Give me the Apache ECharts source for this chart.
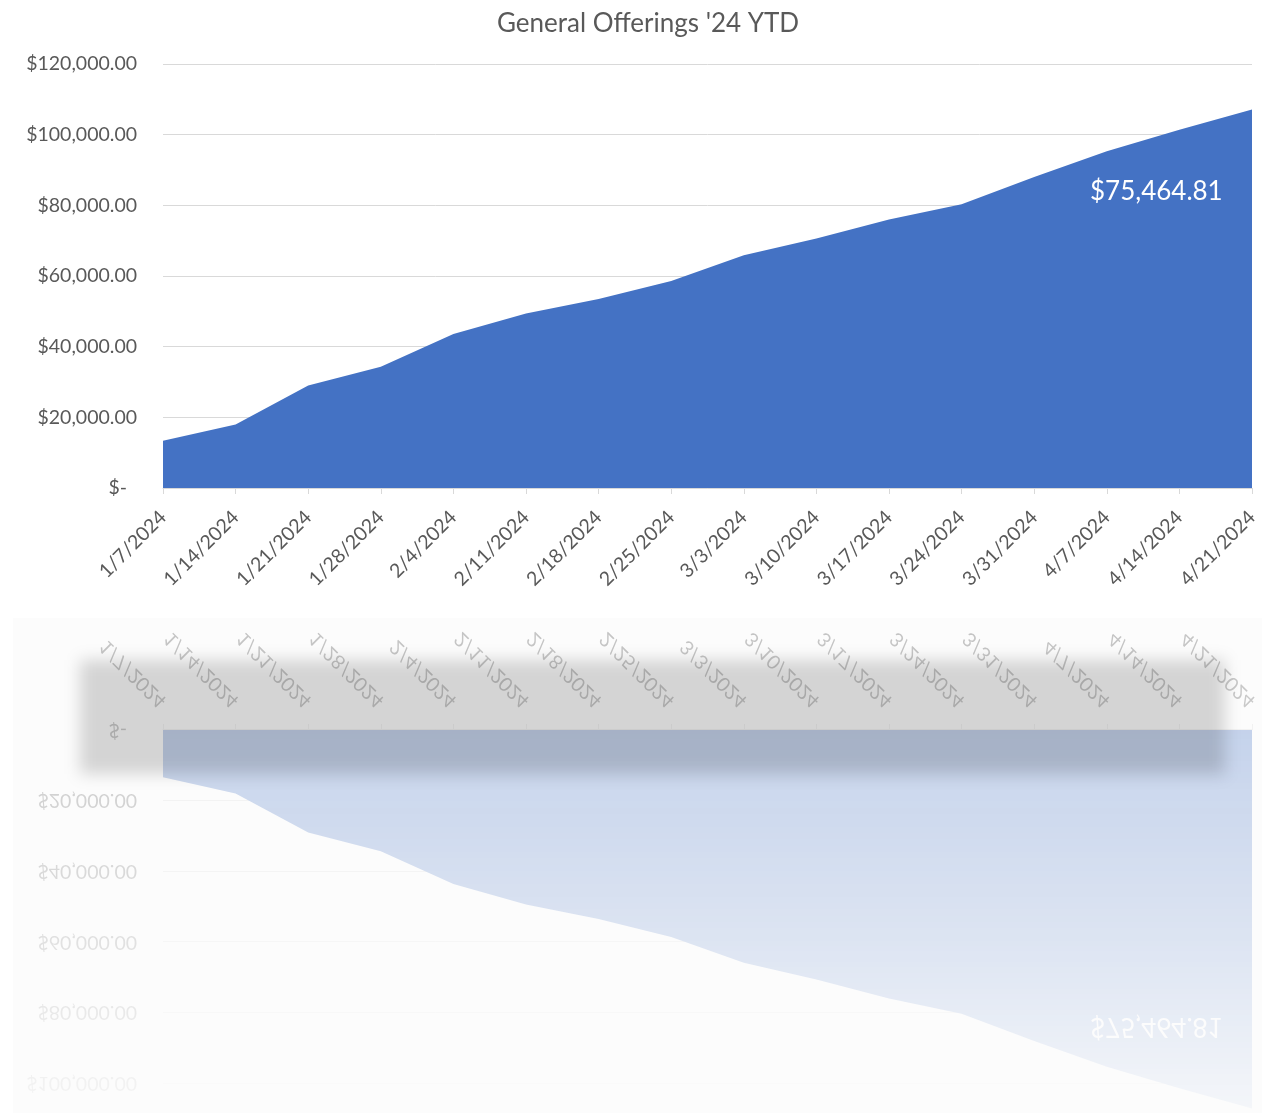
<!DOCTYPE html>
<html>
<head>
<meta charset="utf-8">
<script src="https://cdn.jsdelivr.net/npm/echarts@6/dist/echarts.min.js"></script>
<style>
  html, body { margin: 0; padding: 0; background: #fff; overflow: hidden; }
  body { width: 1265px; height: 1113px; position: relative; }
  #chart { position: absolute; left: 0; top: 0; width: 1265px; height: 609px; }
  #haze { position: absolute; left: 13px; top: 618px; width: 1249px; height: 495px; background: #fcfcfc; }
  #mirror {
    position: absolute; left: 0; top: 609px; width: 1265px; height: 609px;
    transform: scaleY(-1);
    -webkit-mask-image: linear-gradient(to bottom, rgba(0,0,0,0) 0%, rgba(0,0,0,0.04) 17%, rgba(0,0,0,0.17) 46%, rgba(0,0,0,0.26) 70%, rgba(0,0,0,0.3) 80%, rgba(0,0,0,0.35) 100%);
    mask-image: linear-gradient(to bottom, rgba(0,0,0,0) 0%, rgba(0,0,0,0.04) 17%, rgba(0,0,0,0.17) 46%, rgba(0,0,0,0.26) 70%, rgba(0,0,0,0.3) 80%, rgba(0,0,0,0.35) 100%);
  }
  #shade { position: absolute; left: 80px; top: 660px; width: 1145px; height: 114px; background: rgba(0,0,0,0.155); filter: blur(8px); }
</style>
</head>
<body>
<div id="chart"></div>
<div id="haze"></div>
<div id="mirror"></div>
<div id="shade"></div>
<script>
// weekly running total of general offerings, 2024
var weeks = ['1/7/2024', '1/14/2024', '1/21/2024', '1/28/2024', '2/4/2024', '2/11/2024',
    '2/18/2024', '2/25/2024', '3/3/2024', '3/10/2024', '3/17/2024', '3/24/2024',
    '3/31/2024', '4/7/2024', '4/14/2024', '4/21/2024'];
var totals = [13400, 18000, 29000, 34300, 43600, 49400, 53500, 58600,
    65900, 70600, 76000, 80300, 88000, 95300, 101400, 107100];
var yTicks = [0, 20000, 40000, 60000, 80000, 100000, 120000];
var chartTitle = "General Offerings '24 YTD";
var calloutText = '$75,464.81';

var font = 'Lato, "Open Sans", sans-serif';
var grey = '#595959';

function money(v) {
    if (v === 0) return '$-  ';
    return '$' + v.toLocaleString('en-US', {minimumFractionDigits: 2, maximumFractionDigits: 2});
}

function buildOption() {
    return {
        animation: false,
        textStyle: {fontFamily: font},
        title: {
            text: chartTitle,
            left: 643,
            textAlign: 'center',
            top: 6,
            textStyle: {fontFamily: font, fontSize: 26, fontWeight: 'normal', color: grey}
        },
        grid: {left: 163, right: 13, top: 64, bottom: 121},
        xAxis: {
            type: 'category',
            data: weeks,
            boundaryGap: false,
            axisLine: {lineStyle: {color: '#d9d9d9', width: 1}},
            axisTick: {show: true, length: 6, alignWithLabel: true, lineStyle: {color: '#d9d9d9'}},
            axisLabel: {rotate: 45, margin: 26, fontSize: 19.5, color: grey, fontFamily: font, interval: 0}
        },
        yAxis: {
            type: 'value',
            min: yTicks[0],
            max: yTicks[yTicks.length - 1],
            interval: yTicks[1] - yTicks[0],
            axisLine: {show: false},
            axisTick: {show: false},
            splitLine: {lineStyle: {color: '#d9d9d9', width: 1}},
            axisLabel: {margin: 26, fontSize: 19.5, color: grey, fontFamily: font, formatter: money}
        },
        graphic: [{
            type: 'text',
            left: 1090,
            top: 179,
            z: 100,
            style: {text: calloutText, fill: '#ffffff', font: '26px ' + font}
        }],
        series: [{
            type: 'line',
            data: totals,
            symbol: 'none',
            lineStyle: {width: 0},
            areaStyle: {color: '#4472C4', opacity: 1}
        }]
    };
}

var chart = echarts.init(document.getElementById('chart'), null, {renderer: 'canvas'});
chart.setOption(buildOption());

var mirror = echarts.init(document.getElementById('mirror'), null, {renderer: 'canvas'});
mirror.setOption(buildOption());
</script>
</body>
</html>
